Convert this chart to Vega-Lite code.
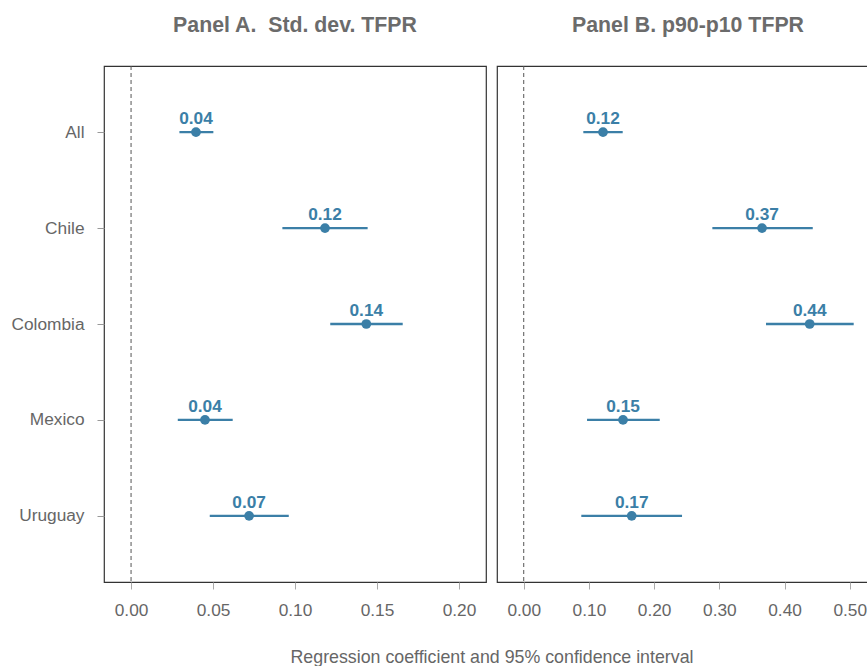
{
  "$schema": "https://vega.github.io/schema/vega-lite/v6.json",
  "background": "white",
  "padding": {"left": 4, "top": 14, "right": 0, "bottom": 0},
  "config": {
    "font": "Liberation Sans",
    "view": {"stroke": "#333333", "strokeWidth": 1.2},
    "axis": {
      "grid": false,
      "domain": false,
      "labelFont": "Liberation Sans",
      "labelFontSize": 17.3,
      "labelColor": "#666666",
      "tickColor": "#aaaaaa",
      "tickSize": 7,
      "labelPadding": 12,
      "title": null
    }
  },
  "title": {
    "text": "Regression coefficient and 95% confidence interval",
    "orient": "bottom",
    "anchor": "middle",
    "fontSize": 17.8,
    "fontWeight": "normal",
    "color": "#666666",
    "offset": 30,
    "dx": 50
  },
  "datasets": {
    "coef": [
      {"panel": "A", "country": "All", "est": 0.0396, "lo": 0.0295, "hi": 0.0502, "label": "0.04"},
      {"panel": "A", "country": "Chile", "est": 0.1183, "lo": 0.0923, "hi": 0.1443, "label": "0.12"},
      {"panel": "A", "country": "Colombia", "est": 0.1435, "lo": 0.1215, "hi": 0.1657, "label": "0.14"},
      {"panel": "A", "country": "Mexico", "est": 0.0451, "lo": 0.0285, "hi": 0.062, "label": "0.04"},
      {"panel": "A", "country": "Uruguay", "est": 0.072, "lo": 0.048, "hi": 0.0962, "label": "0.07"},
      {"panel": "B", "country": "All", "est": 0.1216, "lo": 0.0914, "hi": 0.1518, "label": "0.12"},
      {"panel": "B", "country": "Chile", "est": 0.3655, "lo": 0.2893, "hi": 0.4433, "label": "0.37"},
      {"panel": "B", "country": "Colombia", "est": 0.4386, "lo": 0.3716, "hi": 0.5061, "label": "0.44"},
      {"panel": "B", "country": "Mexico", "est": 0.1523, "lo": 0.0971, "hi": 0.2086, "label": "0.15"},
      {"panel": "B", "country": "Uruguay", "est": 0.1656, "lo": 0.0883, "hi": 0.2428, "label": "0.17"}
    ]
  },
  "spacing": 9,
  "hconcat": [
    {
      "width": 382,
      "height": 516,
      "title": {"text": "Panel A.\u00a0 Std. dev. TFPR", "fontSize": 21.3, "fontWeight": "bold", "color": "#6b6b6b", "offset": 29, "anchor": "middle"},
      "data": {"name": "coef"},
      "transform": [{"filter": "datum.panel == 'A'"}],
      "layer": [
        {
          "data": {"values": [{"ref": 0}]},
          "mark": {"type": "rule", "color": "#555555", "strokeDash": [4, 3], "strokeWidth": 1},
          "encoding": {
            "x": {"field": "ref", "type": "quantitative", "scale": {"domain": [-0.0165, 0.2165], "nice": false, "zero": false}}
          }
        },
        {
          "mark": {"type": "rule", "color": "#3b7fa7", "strokeWidth": 2.3},
          "encoding": {
            "y": {"field": "country", "type": "nominal", "sort": ["All", "Chile", "Colombia", "Mexico", "Uruguay"], "scale": {"type": "point", "padding": 0.69},
              "axis": {"tickSize": 7, "labelPadding": 13, "minExtent": 99, "maxExtent": 99, "tickColor": "#999999"}},
            "x": {"field": "lo", "type": "quantitative", "scale": {"domain": [-0.0165, 0.2165], "nice": false, "zero": false},
              "axis": {"values": [0, 0.05, 0.1, 0.15, 0.2], "format": ".2f"}},
            "x2": {"field": "hi"}
          }
        },
        {
          "mark": {"type": "point", "filled": true, "opacity": 1, "size": 95, "color": "#3b7fa7"},
          "encoding": {
            "y": {"field": "country", "type": "nominal", "sort": ["All", "Chile", "Colombia", "Mexico", "Uruguay"]},
            "x": {"field": "est", "type": "quantitative"}
          }
        },
        {
          "mark": {"type": "text", "color": "#3b7fa7", "fontWeight": "bold", "fontSize": 17.3, "baseline": "alphabetic", "dy": -8},
          "encoding": {
            "y": {"field": "country", "type": "nominal", "sort": ["All", "Chile", "Colombia", "Mexico", "Uruguay"]},
            "x": {"field": "est", "type": "quantitative"},
            "text": {"field": "label"}
          }
        }
      ]
    },
    {
      "width": 382,
      "height": 516,
      "title": {"text": "Panel B. p90-p10 TFPR", "fontSize": 21.3, "fontWeight": "bold", "color": "#6b6b6b", "offset": 29, "anchor": "middle"},
      "data": {"name": "coef"},
      "transform": [{"filter": "datum.panel == 'B'"}],
      "layer": [
        {
          "data": {"values": [{"ref": 0}]},
          "mark": {"type": "rule", "color": "#555555", "strokeDash": [4, 3], "strokeWidth": 1},
          "encoding": {
            "x": {"field": "ref", "type": "quantitative", "scale": {"domain": [-0.041, 0.5449], "nice": false, "zero": false}}
          }
        },
        {
          "mark": {"type": "rule", "color": "#3b7fa7", "strokeWidth": 2.3},
          "encoding": {
            "y": {"field": "country", "type": "nominal", "sort": ["All", "Chile", "Colombia", "Mexico", "Uruguay"], "scale": {"type": "point", "padding": 0.69}, "axis": null},
            "x": {"field": "lo", "type": "quantitative", "scale": {"domain": [-0.041, 0.5449], "nice": false, "zero": false},
              "axis": {"values": [0, 0.1, 0.2, 0.3, 0.4, 0.5], "format": ".2f"}},
            "x2": {"field": "hi"}
          }
        },
        {
          "mark": {"type": "point", "filled": true, "opacity": 1, "size": 95, "color": "#3b7fa7"},
          "encoding": {
            "y": {"field": "country", "type": "nominal", "sort": ["All", "Chile", "Colombia", "Mexico", "Uruguay"]},
            "x": {"field": "est", "type": "quantitative"}
          }
        },
        {
          "mark": {"type": "text", "color": "#3b7fa7", "fontWeight": "bold", "fontSize": 17.3, "baseline": "alphabetic", "dy": -8},
          "encoding": {
            "y": {"field": "country", "type": "nominal", "sort": ["All", "Chile", "Colombia", "Mexico", "Uruguay"]},
            "x": {"field": "est", "type": "quantitative"},
            "text": {"field": "label"}
          }
        }
      ]
    }
  ]
}
